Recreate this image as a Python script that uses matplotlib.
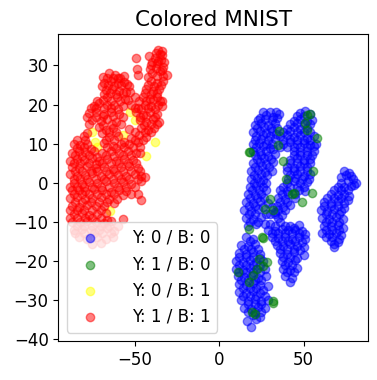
import numpy as np
import matplotlib.pyplot as plt

# 2-D embedding points, per group (x, y)
blue_pts = [
    # left column
    (24, 16.5), (28, 17.2), (32, 16.8), (35.5, 17.5), (21, 14.8), (25, 15.3), (29, 14.7), (33, 15.2),
    (20, 13), (24, 13.3), (28, 12.7), (31.5, 13.2), (21, 11), (25, 11.3), (29, 10.8), (33, 11.2),
    (22, 9), (26, 9.3), (30, 8.8), (21, 7), (25, 7.2), (29, 6.8), (33, 7.3),
    (20, 5), (24, 5.2), (28, 4.8), (32, 5.2), (19, 3), (23, 3.2), (27, 2.8), (31, 3.1),
    (19, 1), (22.5, 1.2), (26, 0.8), (18, -1), (22, -0.8), (26, -1.2),
    (17, -3), (21, -3.2), (25, -2.8), (16, -5), (20, -5.2), (24, -4.8), (29, -5.3),
    (15, -7), (19, -7.2), (23, -6.8), (33, -7.5), (30, -8), (16, -9), (20, -9.2), (25, -8.8),
    (17, -11), (22, -10.5),
    (26, 18), (30, 18.2), (33.5, 18), (23, 16), (27, 16.2), (31, 16), (34, 16.5), (22.5, 14), (26.5, 14.2),
    (30.5, 14), (34, 14), (22, 12), (26, 12.2), (30, 12), (33.5, 12.5), (20, 10), (23.5, 10.2), (27.5, 10),
    (31.5, 10), (20, 8), (24, 8.2), (28, 8), (32, 8.5), (22.5, 6), (26.5, 6.2), (30.5, 6), (21.5, 4),
    (25.5, 4.2), (29.5, 4), (20.5, 2), (24.5, 2.2), (28.5, 2), (20.5, 0), (24, 0.2), (28, 0),
    (19.5, -2), (23.5, -2), (27.5, -2), (18.5, -4), (22.5, -4), (26.5, -4), (17.5, -6), (21.5, -6),
    (26, -6.2), (31, -6.2), (17.5, -8), (21.5, -8), (27.5, -8), (18.5, -10), (23, -10), (27, -10.5),
    # middle column
    (48, 17.8), (51, 18.3), (44, 15.8), (48, 16.3), (52, 15.7), (55, 16),
    (40, 13.8), (44, 14.2), (48, 13.7), (52, 14), (36, 12), (40, 12.3), (44, 11.8), (48, 12.2), (52, 11.5), (56, 12),
    (38, 10), (42, 10.3), (46, 9.8), (50, 10.2), (54, 9.7), (44, 8.2), (48, 7.8), (52, 8.1), (56, 8),
    (42, 5.8), (46, 6.2), (50, 5.7), (54, 6), (40, 4), (44, 3.8), (48, 4.2), (52, 3.9),
    (42, 2), (46, 2.2), (50, 1.8), (54, 2.1), (40, 0), (44, 0.3), (48, -0.2), (52, 0.1),
    (36, -2), (40, -2.2), (47, -1.8), (51, -2.1), (35, -4), (39, -4.2), (45, -4),
    (34, -6), (38, -6.3), (42, -5.8), (33, -8), (37, -8.2),
    (46, 17), (50, 17), (53.5, 17.5), (42, 15), (46, 15.2), (50, 15), (54, 15), (38, 13), (42, 13.2),
    (46, 13), (50, 13), (54, 13), (38, 11), (42, 11.2), (46, 11), (50, 11), (54, 11), (57, 10),
    (36, 9), (40, 9.2), (44, 9), (48, 9), (52, 9), (56, 9.5), (44, 7), (48, 7),
    (52, 7), (55, 7), (42, 5.1), (46, 5), (50, 5), (54, 5), (40, 3), (44, 3), (48, 3), (52, 3),
    (41, 1), (45, 1.2), (49, 1), (53, 1), (38, -1), (42, -1), (46, -1), (50, -1), (37, -3), (41, -3),
    (45, -3), (36, -5), (40, -5), (35, -7), (39, -7), (35, -9),
    # right column
    (74, 3), (77, 2.5), (79, 1), (81, 0), (76, 0.5), (72, 1.5), (70, -1), (74, -1.2), (78, -0.8),
    (66, -3), (70, -3.2), (74, -2.8), (77, -3.5), (62, -5), (66, -5.2), (70, -4.8), (74, -5.3),
    (60, -7), (64, -7.2), (68, -6.8), (72, -7.3), (61, -9), (65, -9.2), (69, -8.8), (73, -9.3),
    (62, -11), (66, -11.2), (70, -10.8), (73, -11.5), (61, -13), (65, -13.2), (69, -12.8), (72, -13.5),
    (66, -15), (70, -15.2), (68, -16.5),
    (75, 2), (78, 1.8), (80, -0.5), (72, 0), (68, -2), (72, -2), (76, -2), (64, -4), (68, -4), (72, -4),
    (76, -4.5), (62, -6), (66, -6), (70, -6), (74, -6.5), (63, -8), (67, -8), (71, -8), (63, -10),
    (67, -10), (71, -10), (63, -12), (67, -12), (71, -12), (63, -14), (67, -14), (71, -14.5), (68, -15.8),
    # lower-left blob
    (16, -14), (20, -14.5), (13, -16), (17, -16.2), (21, -15.8),
    (12, -18), (16, -18.3), (20, -17.8), (24, -18.2), (10, -20), (14, -20.2), (18, -19.8), (22, -20.3), (26, -20),
    (10, -22), (14, -22.3), (18, -21.8), (22, -22.2), (27, -22), (11, -24), (15, -24.2), (19, -23.8), (23, -24.3), (28, -24),
    (12, -26), (16, -26.2), (20, -25.8), (24, -26.1), (29, -26.5), (12, -28), (16, -28.2), (20, -27.8), (24, -28.3),
    (13, -30), (17, -30.2), (21, -29.8), (25, -30.2), (29, -30), (15, -32), (19, -32.3), (23, -31.8), (27, -32.2),
    (20, -34), (24, -34.3), (16.5, -35.5), (19, -37),
    (18, -15), (15, -17), (19, -17), (23, -17), (12, -19), (16, -19), (20, -19), (24, -19.2), (12, -21),
    (16, -21), (20, -21), (24, -21), (12, -23), (16, -23), (20, -23), (24, -23), (13, -25), (17, -25),
    (21, -25), (25, -25), (14, -27), (18, -27), (22, -27), (26, -27.5), (14, -29), (18, -29), (22, -29),
    (27, -29), (17, -31), (21, -31), (25, -31), (17, -33), (21, -33), (25, -33), (22, -35),
    # lower-middle blob
    (30, -10.5), (36, -10), (42, -11), (47, -10.8), (29, -12), (33, -12.3), (37, -11.8), (41, -12.2), (45, -12), (49, -12.5),
    (31, -14), (35, -14.2), (39, -13.8), (43, -14.3), (47, -14), (51, -14.5), (34, -16), (38, -16.2), (42, -15.8), (46, -16.3), (50, -16.5),
    (36, -18), (40, -18.2), (44, -17.8), (50, -18.5), (37, -20), (41, -20.3), (45, -19.8),
    (38, -22), (42, -22.3), (46, -21.8), (39, -24), (43, -24.3), (42, -25.5),
    (33, -11), (39, -11), (44, -11.5), (31, -13), (35, -13), (39, -13), (43, -13), (47, -13), (51, -13.2),
    (33, -15), (37, -15), (41, -15), (45, -15), (49, -15.2), (36, -17), (40, -17), (44, -17), (48, -17.3),
    (38, -19), (42, -19), (46, -19.2), (39, -21), (43, -21), (40, -23), (44, -23),
]

green_pts = [
    (17.4, 7.8), (18.2, 7.8), (35.7, 13.2), (34.7, 9.7), (37.7, 5.6), (39.6, 1.0), (44, -2.6), (43, -3),
    (48.9, -5), (54.8, -2.6), (55.8, 2.9), (57.8, 11.4), (51.9, 13.5), (50.9, 15.2), (53.8, 17.7), (51.9, 17.3),
    (30.2, -4.3), (27.2, -6.7), (32.1, -6.9), (17.4, -11.8), (25.2, -13.8), (26, -14.1),
    (23.3, -19.6), (28.2, -20.4), (26.2, -21.3), (22.5, -22.2), (11, -23), (17.4, -25.4),
    (19.3, -33.2), (21.2, -33.6), (31.8, -30.9), (19.9, -23.7), (31.6, -30.4),
]

yellow_pts = [
    (-38, 10.5), (-43.2, 6.8), (-72.4, 9.2), (-75.3, 13), (-56.8, 12.2), (-52.7, 18.1),
    (-49.7, 16), (-64.5, -7.2), (-73.5, 10.5),
]

red_pts = [
    (-36, 34), (-33.5, 33.8), (-35, 33), (-41.5, 32.5), (-38, 32), (-34.5, 31.5), (-49, 31.8),
    (-40, 30), (-36.5, 30.5), (-33, 29.5), (-48.7, 29.2), (-39.5, 28), (-35, 28.5), (-31, 27.5), (-48.2, 27.5),
    (-68.5, 27), (-65, 28), (-61.5, 27.5), (-58.5, 26.8),
    (-68, 25.5), (-64, 26), (-60, 25.5), (-56, 25.8), (-53, 24.8), (-40.5, 26), (-37, 25.5), (-33, 26),
    (-67, 23.8), (-63.5, 24), (-59, 23.5), (-55, 23.3), (-43, 24), (-39, 23.5), (-35.5, 24),
    (-66, 22), (-60.5, 22), (-55.5, 21.5), (-50, 22), (-45, 22), (-41, 21.5), (-37, 22), (-34, 21),
    (-74, 19.5), (-71, 20.5), (-66.5, 19.8), (-62, 20), (-57, 19.5), (-52, 20), (-48, 19.2), (-44, 20), (-40, 19.5), (-36, 19.8),
    (-77, 17.8), (-73, 18), (-68, 17.5), (-64, 18.2), (-59, 17.5), (-49, 18), (-45, 17.3), (-41, 18), (-37, 17.5),
    (-75, 16), (-70, 15.8), (-66, 16.3), (-61, 15.5), (-47, 16), (-43, 15.5), (-39, 16.2), (-35.5, 15.5),
    (-71, 14.2), (-67, 13.5), (-63, 14), (-53, 13.7), (-46, 14), (-42, 13.6), (-38.5, 14),
    (-80, 12), (-65, 11.8), (-60, 12), (-52, 11.5), (-47.5, 12.2), (-43, 11.7),
    (-86, 9.8), (-82, 9.7), (-78, 10), (-68, 10.2), (-63, 9.5), (-58, 10), (-53, 9.8), (-48, 10.3),
    (-87, 7.5), (-83, 8), (-79, 7.8), (-74, 8.2), (-69, 7.5), (-64, 8), (-59, 7.7), (-54, 8.1), (-49, 7.6),
    (-88, 5.5), (-84, 6), (-80, 5.7), (-75, 6.2), (-71, 5.6), (-66, 6), (-61, 5.5), (-56, 6.1), (-51, 5.8),
    (-87, 4), (-83, 3.8), (-78, 4.2), (-73, 3.7), (-68, 4.1), (-63, 3.6), (-58, 4), (-53, 4.3), (-48, 3.8),
    (-88, 2.3), (-84, 1.8), (-79, 2), (-75, 2.4), (-70, 1.8), (-65, 2.2), (-60, 2), (-55, 1.7), (-50, 2.2), (-46, 1.6),
    (-86, 0), (-81, -0.3), (-77, 0.2), (-72, 0), (-67, 0.3), (-62, -0.2), (-57, 0.2), (-52, -0.3), (-46, 0.4),
    (-87, -2), (-83, -1.8), (-79, -2.2), (-74, -1.7), (-69, -2), (-64, -2.3), (-59, -1.8), (-55, -2.1),
    (-88, -4), (-84, -3.8), (-79, -4.2), (-75, -4), (-70, -3.7), (-65, -4.3), (-60.5, -4.3), (-46, -4.5),
    (-87, -6), (-83, -6.2), (-78, -5.8), (-73, -6.1), (-68, -5.9),
    (-86, -8), (-81, -7.8), (-77, -8.2), (-72, -8), (-67, -7.7), (-57, -9.4),
    (-87, -10), (-82, -10.2), (-78, -9.8), (-73, -10), (-68, -10.3), (-64, -9.8),
    (-86, -12), (-81, -11.8), (-76, -12.2), (-71, -12), (-66, -11.7), (-62, -12.3),
    (-83, -14), (-78, -14.3), (-72, -13.8), (-67, -14.5), (-63, -14), (-70, -15.5), (-75, -15.8),
    (-37.5, 33.2), (-34, 32.6), (-39.5, 31), (-36, 31.2), (-32.5, 30.8), (-41, 29), (-37.5, 29.3), (-34, 28.8),
    (-42, 27), (-37, 27.2), (-33, 27.3), (-66.5, 26.8), (-63, 26.7), (-60, 26.9), (-56, 27.2),
    (-69, 24.8), (-65.5, 25), (-62, 24.7), (-58, 24.9), (-54.5, 25.2), (-42, 25), (-38.5, 24.8), (-34.5, 25),
    (-68, 22.8), (-64.5, 23), (-61, 22.7), (-57, 23), (-52.5, 23.2), (-44, 23), (-40, 22.8), (-36.5, 23),
    (-72, 21), (-68.5, 21.2), (-64, 21), (-58.5, 21), (-54, 21.2), (-47.5, 21), (-43, 21), (-39, 21.2), (-35, 21),
    (-76, 19), (-72.5, 19), (-68, 19), (-64, 19.2), (-59.5, 18.8), (-50, 19), (-46, 18.8), (-42, 19),
    (-38, 18.8), (-34, 19.5),
    (-78, 16.8), (-73, 16.7), (-68.5, 17), (-63, 17), (-57, 16.8), (-47, 16.8), (-43, 17), (-38, 16.8),
    (-77, 15), (-68.5, 14.8), (-63.5, 15), (-58, 15), (-44.5, 14.8), (-40.5, 15), (-37, 15),
    (-78, 12.8), (-69, 12.8), (-65, 13), (-61, 13), (-49.5, 13), (-44, 13), (-40, 13),
    (-84, 11), (-79, 11), (-67, 11), (-62, 11), (-56, 10.5), (-50, 11), (-45, 11),
    (-84, 8.8), (-80, 9), (-76, 8.5), (-66, 9), (-61, 8.8), (-56, 9), (-51, 9), (-46.5, 9),
    (-85, 7), (-81, 6.8), (-77, 7), (-72, 6.5), (-67, 7), (-62, 6.8), (-57, 7), (-52, 7), (-47, 7.5),
    (-86, 5), (-82, 5), (-77, 5), (-73, 4.8), (-69, 5), (-64, 5), (-59, 5), (-54, 5), (-49, 5),
    (-85, 3), (-81, 3), (-76, 3), (-72, 3), (-67, 3), (-62, 3), (-57, 3), (-52, 3), (-47, 3),
    (-86, 1), (-82, 1), (-78, 1), (-73, 1), (-68, 1), (-63, 1), (-58, 1), (-53, 1), (-48, 1), (-44, 1.5),
    (-88, -1), (-84, -1), (-80, -1), (-75, -1), (-70, -1), (-65, -1), (-60, -1), (-55, -1), (-50, -1.2),
    (-86, -3), (-81, -3), (-77, -3), (-72, -3), (-67, -3), (-62, -3), (-57, -3.2), (-52, -3), (-48, -3),
    (-85, -5), (-81, -5), (-76, -5), (-71, -5), (-66, -5), (-62, -5.2),
    (-88, -7), (-84, -7), (-80, -7), (-75, -7), (-70, -7),
    (-88, -9), (-84, -9), (-79, -9), (-75, -9), (-70, -9), (-66, -9.5),
    (-84, -11), (-80, -11), (-75, -11), (-70, -11), (-65, -11), (-60, -11),
    (-85, -13), (-80, -13), (-74, -13), (-69, -13), (-64, -13),
]

groups = [
    ("Y: 0 / B: 0", "blue", blue_pts),
    ("Y: 1 / B: 0", "green", green_pts),
    ("Y: 0 / B: 1", "yellow", yellow_pts),
    ("Y: 1 / B: 1", "red", red_pts),
]

fig = plt.figure(figsize=(3.77, 3.8), dpi=100)
ax = fig.add_axes([0.155, 0.103, 0.821, 0.807])

for label, color, pts in groups:
    p = np.array(pts)
    ax.scatter(p[:, 0], p[:, 1], c=color, alpha=0.5, label=label)

ax.set_xlim(-95, 88)
ax.set_ylim(-40.5, 38)
ax.set_xticks([-50, 0, 50])
ax.set_yticks([-40, -30, -20, -10, 0, 10, 20, 30])
ax.tick_params(labelsize=12)
ax.set_title("Colored MNIST", fontsize=15.5)
ax.legend(loc="lower left", fontsize=12, handletextpad=1.5)

plt.savefig("out.png", dpi=100)
